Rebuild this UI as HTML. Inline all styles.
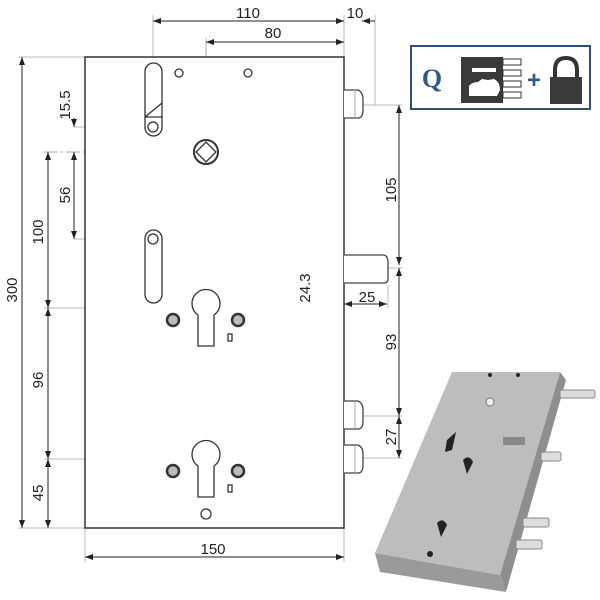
<!DOCTYPE html>
<html><head><style>
html,body{margin:0;padding:0;background:#fff;width:600px;height:600px;overflow:hidden}
svg{display:block}
text{font-family:"Liberation Sans",sans-serif;font-size:15px;fill:#222}
</style></head><body>
<svg width="600" height="600" viewBox="0 0 600 600" xmlns="http://www.w3.org/2000/svg">
<defs>
<marker id="a" markerWidth="8" markerHeight="6" refX="8" refY="3" orient="auto-start-reverse" markerUnits="userSpaceOnUse"><path d="M0,0 L8,3 L0,6z" fill="#222"/></marker>
</defs>
<g stroke="#bbb" stroke-width="1" fill="none">
<line x1="153" y1="15" x2="153" y2="63"/>
<line x1="375" y1="15" x2="375" y2="105"/>
<line x1="344" y1="15" x2="344" y2="57"/>
<line x1="206" y1="38" x2="206" y2="57"/>
<line x1="18" y1="57" x2="85" y2="57"/>
<line x1="18" y1="528" x2="85" y2="528"/>
<line x1="74" y1="127" x2="150" y2="127"/>
<line x1="74" y1="239" x2="150" y2="239"/>
<line x1="44" y1="308" x2="315" y2="308"/>
<line x1="44" y1="459" x2="335" y2="459"/>
<line x1="85" y1="528" x2="85" y2="562"/>
<line x1="344" y1="528" x2="344" y2="562"/>
<line x1="340" y1="105" x2="402" y2="105"/>
<line x1="315" y1="268" x2="402" y2="268"/>
<line x1="340" y1="416" x2="402" y2="416"/>
<line x1="340" y1="458" x2="402" y2="458"/>
<line x1="388" y1="285" x2="388" y2="308"/>
</g>
<g stroke="#aaa" stroke-width="1" fill="none" stroke-dasharray="14,3,2,3">
<line x1="206" y1="42" x2="206" y2="528"/>
<line x1="44" y1="152" x2="320" y2="152"/>
<line x1="153" y1="65" x2="153" y2="136"/>
<line x1="153" y1="232" x2="153" y2="303"/>
</g>
<g stroke="#222" stroke-width="1" fill="none" marker-start="url(#a)" marker-end="url(#a)">
<line x1="153" y1="21" x2="344" y2="21"/>
<line x1="206" y1="42" x2="344" y2="42"/>
<line x1="22" y1="57" x2="22" y2="528"/>
<line x1="48" y1="152" x2="48" y2="308"/>
<line x1="48" y1="308" x2="48" y2="459"/>
<line x1="48" y1="459" x2="48" y2="528"/>
<line x1="74" y1="152" x2="74" y2="239"/>
<line x1="85" y1="557" x2="344" y2="557"/>
<line x1="399" y1="105" x2="399" y2="265"/>
<line x1="399" y1="268" x2="399" y2="416"/>
<line x1="399" y1="416" x2="399" y2="458"/>
<line x1="344" y1="304" x2="387" y2="304"/>
</g>
<g stroke="#222" stroke-width="1" fill="none">
<line x1="362" y1="21" x2="375" y2="21" marker-start="url(#a)"/>
<line x1="74" y1="118" x2="74" y2="127" marker-end="url(#a)"/>
<line x1="312" y1="276" x2="312" y2="268" marker-end="url(#a)"/>
<line x1="312" y1="300" x2="312" y2="308" marker-end="url(#a)"/>
</g>
<rect x="85" y="57" width="259" height="471" fill="#fff" stroke="#333" stroke-width="1.5"/>
<g fill="#fff" stroke="#444" stroke-width="1.3">
<path d="M344,90 H358 Q363,92 363,100 V110 Q363,118 358,118 H344"/>
<path d="M344,255 H384 Q388,256 388,262 V279 Q388,283 384,283 H344"/>
<path d="M344,401 H358 Q363,403 363,410 V421 Q363,429 358,429 H344"/>
<path d="M344,445 H358 Q363,447 363,454 V465 Q363,473 358,473 H344"/>
</g>
<g stroke="#aaa" stroke-width="1"><line x1="355" y1="91" x2="355" y2="117"/><line x1="355" y1="402" x2="355" y2="428"/><line x1="355" y1="446" x2="355" y2="472"/></g>
<g fill="none" stroke="#333" stroke-width="1.3">
<rect x="145" y="63" width="17" height="73" rx="8.5"/>
<rect x="145" y="230" width="17" height="73" rx="8.5"/>
<circle cx="153" cy="127" r="5"/><circle cx="153" cy="239" r="5"/>
<path d="M145,117 L162,103 M145,117 H162"/>
<circle cx="206" cy="152" r="12" stroke-width="2"/>
<rect x="199" y="145" width="14" height="14" transform="rotate(45 206 152)"/>
<circle cx="179" cy="73" r="4"/><circle cx="248" cy="73" r="4"/>
<path d="M198,315 A14,14 0 1 1 214,315 V346 H198 Z"/>
<path d="M198,466 A14,14 0 1 1 214,466 V497 H198 Z"/>
<rect x="228" y="334" width="4" height="7"/><rect x="228" y="485" width="4" height="7"/>
<circle cx="206" cy="514" r="5"/>
</g>
<g fill="#bbb" stroke="#333" stroke-width="2.5">
<circle cx="173" cy="320" r="6"/><circle cx="238" cy="320" r="6"/>
<circle cx="173" cy="471" r="6"/><circle cx="238" cy="471" r="6"/>
</g>
<text x="248" y="18" text-anchor="middle">110</text>
<text x="355" y="18" text-anchor="middle">10</text>
<text x="273" y="38" text-anchor="middle">80</text>
<text x="213" y="554" text-anchor="middle">150</text>
<text x="367" y="302" text-anchor="middle">25</text>
<text transform="translate(17,290) rotate(-90)" text-anchor="middle">300</text>
<text transform="translate(43,232) rotate(-90)" text-anchor="middle">100</text>
<text transform="translate(43,380) rotate(-90)" text-anchor="middle">96</text>
<text transform="translate(43,493) rotate(-90)" text-anchor="middle">45</text>
<text transform="translate(70,105) rotate(-90)" text-anchor="middle">15.5</text>
<text transform="translate(70,195) rotate(-90)" text-anchor="middle">56</text>
<text transform="translate(310,288) rotate(-90)" text-anchor="middle">24.3</text>
<text transform="translate(396,190) rotate(-90)" text-anchor="middle">105</text>
<text transform="translate(396,342) rotate(-90)" text-anchor="middle">93</text>
<text transform="translate(396,437) rotate(-90)" text-anchor="middle">27</text>
<rect x="411" y="46" width="179" height="63" fill="#fff" stroke="#2f4f7a" stroke-width="2"/>
<text x="432" y="87" text-anchor="middle" style="font-size:26px;font-weight:bold;font-family:'Liberation Serif',serif;fill:#2f5a88">Q</text>
<rect x="461" y="57" width="42" height="46" fill="#3a3a3a"/>
<g fill="#fff" stroke="#333" stroke-width="1"><rect x="503" y="59" width="18" height="6"/><rect x="503" y="70" width="18" height="6"/><rect x="503" y="81" width="18" height="6"/><rect x="503" y="92" width="18" height="6"/></g>
<rect x="472" y="68" width="24" height="4" fill="#fff"/>
<path d="M469,96 V86 Q472,82 478,82 L482,79 L488,80 L494,79 Q500,82 500,90 L497,96 Z" fill="#fff"/>
<text x="534" y="88" text-anchor="middle" style="font-size:24px;font-weight:bold;fill:#2f5a88">+</text>
<path d="M555,78 V70 Q555,58 566,58 Q577,58 577,70 V78" fill="none" stroke="#333" stroke-width="4"/>
<rect x="550" y="77" width="32" height="27" fill="#3a3a3a"/>
<polygon points="560,372 566,380 506,592 500,575" fill="#8e8e8e"/>
<polygon points="375,553 500,575 506,592 380,572" fill="#9a9a9a"/>
<polygon points="452,372 560,372 500,575 375,553" fill="#bdbdbd"/>
<g fill="#ddd" stroke="#888"><rect x="560" y="390" width="35" height="8" rx="2"/><rect x="541" y="452" width="20" height="9" rx="2"/><rect x="523" y="518" width="26" height="9" rx="2"/><rect x="516" y="540" width="26" height="9" rx="2"/></g>
<g fill="#222"><path d="M447,440 L456,432 L452,450 L445,452Z"/><path d="M463,460 q6,-6 10,2 l-6,12 z"/><path d="M437,523 q6,-6 10,2 l-6,12 z"/><circle cx="430" cy="554" r="3"/><circle cx="490" cy="375" r="2"/><circle cx="518" cy="375" r="2"/></g>
<rect x="503" y="437" width="22" height="8" fill="#888"/>
<circle cx="490" cy="402" r="4" fill="#eee" stroke="#777"/>
</svg>
</body></html>
